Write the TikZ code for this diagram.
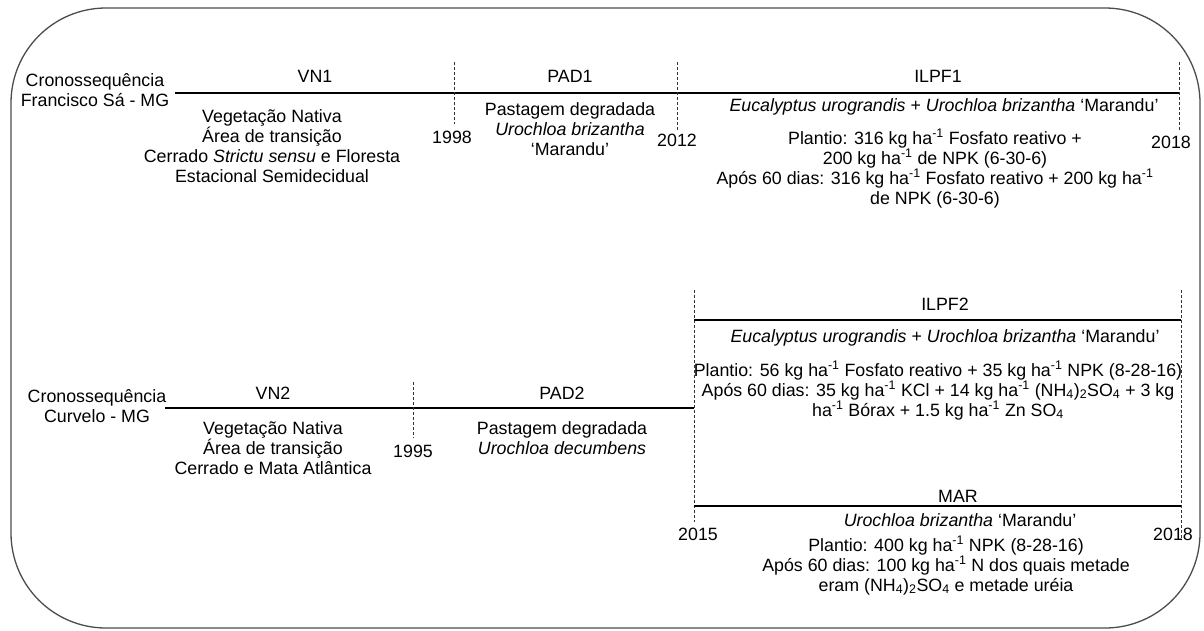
\documentclass[tikz,border=0pt]{standalone}
\usepackage{fontspec}
\setmainfont{Liberation Sans}
\newcommand\firststrut{\rule{0pt}{14pt}}
\newcommand\hainv{ha\textsuperscript{-1}}
\newcommand\amsulf{(NH\textsubscript{4})\textsubscript{2}SO\textsubscript{4}}
\begin{document}
\begin{tikzpicture}[x=1pt,y=-1pt,
  txt/.style={font=\fontsize{17.8}{20}\selectfont, inner sep=0pt},
  blk/.style={txt, align=center, anchor=north},
  tl/.style={line width=1.1pt, black},
  tick/.style={line width=0.8pt, dash pattern=on 3pt off 2pt, black!80},
  frame/.style={line width=1.3pt, black!70, rounded corners=95pt}]
\useasboundingbox (0,0) rectangle (1204,630);
\draw[frame] (11,8) rectangle (1200,628);

% ---------- Francisco Sá ----------
\node[blk] (title1) at (95,72) {\firststrut Cronossequência\\Francisco Sá - MG};
\coordinate (a0) at (175,93);
\coordinate (a1) at (1179,93);
\draw[tl] (a0) -- (a1);
\coordinate (t1a) at (454,62);  \coordinate (t1b) at (454,124);
\coordinate (t2a) at (677,62);  \coordinate (t2b) at (677,130);
\coordinate (t3a) at (1179,62); \coordinate (t3b) at (1179,130);
\draw[tick] (t1a) -- (t1b);
\draw[tick] (t2a) -- (t2b);
\draw[tick] (t3a) -- (t3b);
\node[txt] (vn1) at (315,76) {VN1};
\node[txt] (pad1) at (570,76) {PAD1};
\node[txt] (ilpf1) at (938,76) {ILPF1};
\node[txt] (y1998) at (452,137) {1998};
\node[txt] (y2012) at (677,140) {2012};
\node[txt] (y2018a) at (1171,142) {2018};
\node[blk] (vn1d) at (272,108) {\firststrut Vegetação Nativa\\Área de transição\\Cerrado \textit{Strictu sensu} e Floresta\\Estacional Semidecidual};
\node[blk] (pad1d) at (570,101) {\firststrut Pastagem degradada\\\textit{Urochloa brizantha}\\‘Marandu’};
\node[txt] (ilpf1s) at (944,107) {\textit{Eucalyptus urograndis} + \textit{Urochloa brizantha} ‘Marandu’};
\node[blk] (ilpf1f) at (935,129) {\firststrut Plantio: 316 kg \hainv{} Fosfato reativo +\\200 kg \hainv{} de NPK (6-30-6)\\Após 60 dias: 316 kg \hainv{} Fosfato reativo + 200 kg \hainv\\de NPK (6-30-6)};

% ---------- Curvelo ----------
\node[blk] (title2) at (97,388) {\firststrut Cronossequência\\Curvelo - MG};
\coordinate (b0) at (165,408);
\coordinate (b1) at (694,408);
\draw[tl] (b0) -- (b1);
\coordinate (u1a) at (413,382); \coordinate (u1b) at (413,438);
\coordinate (u2a) at (694,290); \coordinate (u2b) at (694,522);
\coordinate (u3a) at (1181,290); \coordinate (u3b) at (1181,540);
\draw[tick] (u1a) -- (u1b);
\draw[tick] (u2a) -- (u2b);
\draw[tick] (u3a) -- (u3b);
\node[txt] (vn2) at (273,393) {VN2};
\node[txt] (pad2) at (562,393) {PAD2};
\node[txt] (y1995) at (413,451) {1995};
\node[blk] (vn2d) at (273,420) {\firststrut Vegetação Nativa\\Área de transição\\Cerrado e Mata Atlântica};
\node[blk] (pad2d) at (562,420) {\firststrut Pastagem degradada\\\textit{Urochloa decumbens}};

\coordinate (c0) at (694,320);
\coordinate (c1) at (1181,320);
\draw[tl] (c0) -- (c1);
\node[txt] (ilpf2) at (945,304) {ILPF2};
\node[txt] (ilpf2s) at (945,338) {\textit{Eucalyptus urograndis} + \textit{Urochloa brizantha} ‘Marandu’};
\node[blk] (ilpf2f) at (938,361) {\firststrut Plantio: 56 kg \hainv{} Fosfato reativo + 35 kg \hainv{} NPK (8-28-16)\\Após 60 dias: 35 kg \hainv{} KCl + 14 kg \hainv{} \amsulf{} + 3 kg\\\hainv{} Bórax + 1.5 kg \hainv{} Zn SO\textsubscript{4}};

\coordinate (d0) at (694,506);
\coordinate (d1) at (1181,506);
\draw[tl] (d0) -- (d1);
\node[txt] (mar) at (958,496) {MAR};
\node[txt] (mars) at (960,520) {\textit{Urochloa brizantha} ‘Marandu’};
\node[txt] (y2015) at (698,534) {2015};
\node[txt] (y2018b) at (1173,534) {2018};
\node[blk] (marf) at (946,536) {\firststrut Plantio: 400 kg \hainv{} NPK (8-28-16)\\Após 60 dias: 100 kg \hainv{} N dos quais metade\\eram \amsulf{} e metade uréia};
\end{tikzpicture}
\end{document}
